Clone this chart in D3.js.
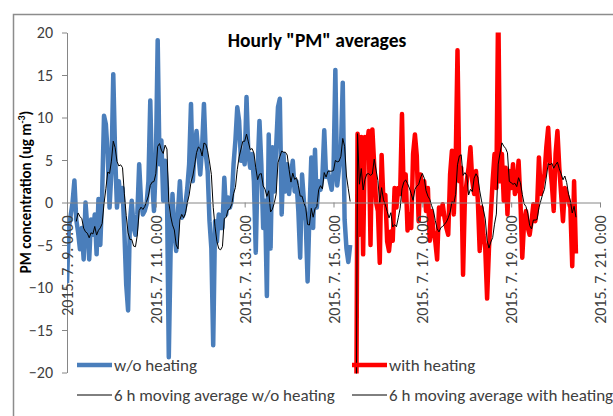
<!DOCTYPE html>
<html>
<head>
<meta charset="utf-8">
<script src="https://cdn.jsdelivr.net/npm/d3@7"></script>
<style>
  body { margin: 0; background: #fff; }
  svg { display: block; }
</style>
</head>
<body>
<script>
var w = 613;
var h = 416;

// hourly values, w/o heating starts 2015-07-09 0:00
var blueStart = Date.UTC(2015, 6, 9, 0);
var woHeating = [
  -9.5, -3, -1.5, 0, 2.6, -2, -3.5, -5.5, -3, -6.7,
  0, -3, -6.7, -2, -3.8, -1.4, -6.1, 0.4, -5, 1,
  10.2, 9.2, 5.7, -0.6, 3.7, 15.1, 5.7, -0.6, 2.5, 0.2,
  1.7, -3.4, -9.7, -12.7, -2.2, 0.2, -3, -3.8, -1.4, 4.5,
  0.2, -1.4, -1, -0.2, 2.5, 12, 2.5, -1, 4.5, 19.1,
  4.5, 7.3, 0.2, 4.9, 1.7, -18.2, -5.4, 1, -3.4, -5.7,
  -1, 2.5, -1.8, -1.4, -0.2, 1.7, 4.5, 11.6, 2.5, 6.5,
  8.4, 5.7, 3.3, 6.5, 11.6, 5.7, 3.7, -2.2, -5.4, -16.8,
  -2.2, -4.6, -1.4, -3, -3, 2.9, -1.4, 0.6, -0.6, 0.2,
  4.5, 7.3, 11.2, 9.6, 4.9, 5.7, 4.5, 12.4, 5.7, 4.1,
  5.7, 2.5, -5.9, 4, 9.6, 4.5, -3, 0.2, -11, 8,
  -5.4, 6.5, 1.3, 6.5, 11.2, 12.2, -1.4, 5.7, 1.3, 4.5,
  1, 3.3, 4.9, 1.3, 2.5, -1, -6.5, 3.3, 0.2, -2.2,
  -9.3, -1.4, 5.3, -3, 6.2, -0.6, 2.5, 1.5, 3, 8.5,
  3, 3.6, 2.5, 1.5, 3.5, 15.6, 2, 4, 6, 14.1,
  -2, -5.4, -7, -5
];

// with heating starts 2015-07-15 12:00 (first value is off the scale)
var redStart = Date.UTC(2015, 6, 15, 12);
var withHeating = [
  -40, 8.1, -3.8, 7.7, -6.1, 7.7, 6.5, 8.4, -5, 8.6,
  4.4, 0, -1, -7.1, 5.6, 0, 0.9, -4.6, -5.7, -3.4,
  -4.5, 1.7, -0.6, 1.7, 1, 10.4, 0.2, 3.3, -3.3, -1.4,
  -3, 5.7, 8, 5.5, -2.2, 3.3, 0.2, 2.5, -1, 1.7,
  -4.5, -1, -3.4, -4.6, -6.7, -0.6, -1.4, -0.2, -1.8, -3,
  -3.8, 3.3, 6.1, -1.4, 4.5, 17.9, 2.5, 4.1, -8.5, 0.6,
  2.5, 4.1, 6.5, 2.5, 1, 3.7, 0.2, -5.7, -0.6, -3.8,
  -5.4, -11.3, -5.4, -1.4, 2.5, 5.7, 1.7, 24, 2.5, 5.7,
  0.2, 4.1, -1.4, 3.7, 1.7, 4.5, 1, 1.7, 4.9, 0.2,
  -6.5, -2.2, -1, -3, -3.8, -2.2, -0.2, -2.2, -0.6, 5.3,
  1, 2.5, 3.3, 6.5, 8.8, 4.5, 2.1, -1, 5.7, 8.4,
  4.1, 1, -2.2, 1.7, 1, 0.2, -0.6, -7.5, 2.5, -6
];

var maPeriod = 6;
var xTickDates = [9, 11, 13, 15, 17, 19, 21].map(function(d) { return new Date(Date.UTC(2015, 6, d)); });
var xTickLabels = ["2015. 7. 9. 0:00", "2015. 7. 11. 0:00", "2015. 7. 13. 0:00", "2015. 7. 15. 0:00",
                   "2015. 7. 17. 0:00", "2015. 7. 19. 0:00", "2015. 7. 21. 0:00"];
var yTicks = [-20, -15, -10, -5, 0, 5, 10, 15, 20];
var legendNames = ["w/o heating", "with heating", "6 h moving average w/o heating", "6 h moving average with heating"];

var font = "Carlito, Calibri, Lato, sans-serif";

function toPoints(start, vals) {
  return vals.map(function(v, i) { return { t: new Date(start + i * 3600e3), v: v }; });
}

var bluePts = toPoints(blueStart, woHeating);
var redPts = toPoints(redStart, withHeating);

// moving average, w/o heating: normal trailing window
var blueMA = [];
for (var i = maPeriod - 1; i < woHeating.length; i++) {
  blueMA.push({ t: bluePts[i].t, v: d3.mean(woHeating.slice(i - maPeriod + 1, i + 1)) });
}
// with heating: first point drawn as is, then trailing window over the rest
var redMA = [redPts[0]];
for (var j = 1; j < withHeating.length; j++) {
  redMA.push({ t: redPts[j].t, v: d3.mean(withHeating.slice(Math.max(1, j - maPeriod + 1), j + 1)) });
}

var xScale = d3.scaleUtc()
  .domain([xTickDates[0], xTickDates[xTickDates.length - 1]])
  .range([67, 600]);

var yScale = d3.scaleLinear()
  .domain([-20, 20])
  .range([372.5, 32.5]);

var svg = d3.select("body")
  .append("svg")
  .attr("width", w)
  .attr("height", h)
  .style("font-family", font);

// chart frame (cut off at right and bottom)
svg.append("path")
  .attr("d", "M13.5," + h + "V14.5H" + w)
  .attr("fill", "none")
  .attr("stroke", "#8c8c8c")
  .attr("stroke-width", 1.5);

svg.append("clipPath").attr("id", "plot")
  .append("rect")
  .attr("x", 67).attr("y", 32.5)
  .attr("width", 533).attr("height", 341);

// y axis
var yAxis = svg.append("g")
  .attr("transform", "translate(67,0)")
  .call(d3.axisLeft(yScale).tickValues(yTicks).tickSize(5).tickPadding(9).tickSizeOuter(0));
yAxis.select(".domain").attr("stroke", "#868686");
yAxis.selectAll(".tick line").attr("stroke", "#868686");
yAxis.selectAll("text")
  .attr("font-family", font)
  .attr("font-size", "16px")
  .attr("fill", "#404040");

// x axis crossing at zero
var xAxis = svg.append("g")
  .attr("transform", "translate(0," + yScale(0) + ")")
  .call(d3.axisBottom(xScale).tickValues(xTickDates).tickSize(5).tickSizeOuter(0)
    .tickFormat(function(d, i) { return xTickLabels[i]; }));
xAxis.select(".domain").attr("stroke", "#868686");
xAxis.selectAll(".tick line").attr("stroke", "#868686");

var line = d3.line()
  .x(function(d) { return xScale(d.t); })
  .y(function(d) { return yScale(d.v); });

var plot = svg.append("g").attr("clip-path", "url(#plot)");

plot.append("path")
  .datum(bluePts)
  .attr("d", line)
  .attr("fill", "none")
  .attr("stroke", "#4a7ebb")
  .attr("stroke-width", 4.5)
  .attr("stroke-linejoin", "round");

plot.append("path")
  .datum(redPts)
  .attr("d", line)
  .attr("fill", "none")
  .attr("stroke", "#ff0000")
  .attr("stroke-width", 4.5)
  .attr("stroke-linejoin", "round");

plot.selectAll(".ma")
  .data([blueMA, redMA])
  .enter()
  .append("path")
  .attr("class", "ma")
  .attr("d", line)
  .attr("fill", "none")
  .attr("stroke", "#000")
  .attr("stroke-width", 1);

// rotated date labels on top
xAxis.raise();
xAxis.selectAll("text")
  .attr("font-family", font)
  .attr("font-size", "16px")
  .attr("fill", "#404040")
  .attr("transform", "rotate(-90)")
  .attr("text-anchor", "end")
  .attr("x", -13)
  .attr("y", 0)
  .attr("dy", "0.35em");

// title
svg.append("text")
  .attr("x", 317)
  .attr("y", 47)
  .attr("text-anchor", "middle")
  .attr("font-size", "19.5px")
  .attr("font-weight", "bold")
  .attr("fill", "#000")
  .text('Hourly "PM" averages');

// y title
var yt = svg.append("text")
  .attr("transform", "translate(31,192) rotate(-90)")
  .attr("text-anchor", "middle")
  .attr("font-size", "15px")
  .attr("font-weight", "bold")
  .attr("fill", "#000");
yt.append("tspan").text("PM concentration (ug m");
yt.append("tspan").attr("font-size", "10px").attr("dy", "-6").text("-3");
yt.append("tspan").attr("dy", "6").text(")");

// legend
var legendItems = [
  { name: legendNames[0], color: "#4a7ebb", width: 4.5, x: 77, y: 365 },
  { name: legendNames[1], color: "#ff0000", width: 4.5, x: 352, y: 365 },
  { name: legendNames[2], color: "#000", width: 1, x: 77, y: 395 },
  { name: legendNames[3], color: "#000", width: 1, x: 352, y: 395 }
];

var leg = svg.selectAll(".legend")
  .data(legendItems)
  .enter()
  .append("g")
  .attr("class", "legend")
  .attr("transform", function(d) { return "translate(" + d.x + "," + d.y + ")"; });

leg.append("line")
  .attr("x1", 0).attr("x2", 35)
  .attr("stroke", function(d) { return d.color; })
  .attr("stroke-width", function(d) { return d.width; });

leg.append("text")
  .attr("x", 37)
  .attr("dy", "0.35em")
  .attr("font-size", "17px")
  .attr("fill", "#404040")
  .text(function(d) { return d.name; });
</script>
</body>
</html>
